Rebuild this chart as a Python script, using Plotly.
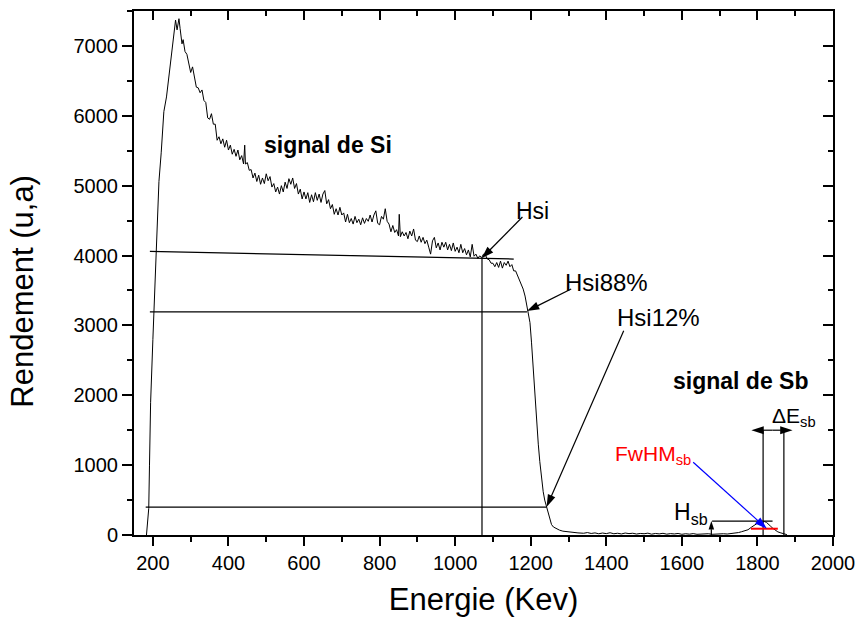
import plotly.graph_objects as go

# ---------------- spectrum data ----------------
energy = [
    183, 186, 189, 191, 194, 200, 205, 210, 216, 222, 229, 236, 242, 247, 253, 258, 260, 264, 266, 269, 272, 277,
    280, 285, 290, 295, 300, 305, 310, 315, 320, 325, 330, 335, 340, 345, 350, 355, 360, 365, 370, 375,
    380, 385, 390, 395, 400, 405, 410, 415, 420, 425, 430, 435, 440, 443, 445, 450, 455, 460, 465, 470,
    475, 480, 485, 490, 495, 500, 505, 510, 515, 520, 525, 530, 535, 540, 545, 550, 555, 560, 565, 570,
    575, 580, 585, 590, 595, 600, 605, 610, 615, 620, 625, 630, 635, 640, 645, 650, 655, 660, 665, 670,
    675, 680, 685, 690, 695, 700, 705, 710, 715, 720, 725, 730, 735, 740, 745, 750, 755, 760, 765, 770,
    775, 780, 785, 790, 795, 800, 805, 810, 815, 820, 825, 830, 835, 840, 845, 850, 852, 855, 860, 865,
    870, 875, 880, 885, 890, 895, 900, 905, 910, 915, 920, 925, 930, 935, 940, 945, 950, 955, 960, 965,
    970, 975, 980, 985, 990, 995, 1000, 1005, 1010, 1015, 1020, 1025, 1030, 1035, 1040, 1045, 1050, 1055,
    1060, 1065, 1070, 1075, 1080, 1085, 1090, 1095, 1100, 1105, 1110, 1115, 1120, 1125, 1130, 1135, 1140,
    1145, 1150, 1155, 1160, 1165, 1170, 1175, 1180, 1185, 1190, 1194, 1198, 1202, 1206, 1211, 1215, 1220,
    1224, 1228, 1233, 1237, 1242, 1246, 1250, 1255, 1260, 1268, 1276, 1285, 1294, 1305, 1315, 1325,
    1340, 1350, 1360, 1370, 1380, 1390, 1400, 1410, 1420, 1430, 1440, 1450, 1460, 1470, 1480, 1490, 1500,
    1510, 1520, 1530, 1540, 1550, 1560, 1570, 1580, 1590, 1600, 1610, 1620, 1630, 1640, 1650, 1660, 1670,
    1680, 1690, 1700, 1710, 1720, 1730, 1740, 1750, 1758, 1766, 1775, 1785, 1793, 1800, 1806, 1812, 1819,
    1824, 1828, 1834, 1841, 1847, 1854, 1862, 1870, 1878,
]
counts = [
    0, 150, 380, 1000, 1900, 2800, 3500, 4250, 5060, 5470, 6060, 6270, 6560, 6730, 7060, 7270, 7370, 7230, 7320, 7390, 7250, 7030,
    7090, 6920, 6880, 6720, 6620, 6700, 6520, 6410, 6400, 6330, 6370, 6220, 6190, 5970, 5950, 6030, 5880, 5880, 5650, 5700,
    5600, 5670, 5550, 5650, 5510, 5580, 5450, 5520, 5420, 5510, 5370, 5430, 5310, 5580, 5310, 5330, 5220, 5230, 5110, 5180,
    5060, 5150, 5020, 5110, 5030, 5170, 5070, 5130, 4980, 5030, 4910, 4980, 4880, 5000, 4910, 5050, 4960, 5100, 5020, 5110,
    4960, 5030, 4880, 4950, 4810, 4910, 4810, 4900, 4760, 4870, 4770, 4900, 4790, 4880, 4760, 4880, 4930, 4740, 4800, 4670,
    4730, 4590, 4670, 4580, 4690, 4580, 4610, 4480, 4590, 4470, 4530, 4450, 4560, 4470, 4520, 4440, 4540, 4460, 4530, 4490,
    4580, 4480, 4580, 4640, 4460, 4440, 4560, 4520, 4670, 4490, 4450, 4340, 4430, 4330, 4370, 4280, 4590, 4270, 4340, 4280,
    4330, 4240, 4350, 4280, 4380, 4220, 4200, 4280, 4190, 4260, 4170, 4220, 4120, 4020, 4210, 4260, 4110, 4180, 4080, 4190,
    4120, 4190, 4080, 4160, 4070, 4180, 4060, 4120, 4040, 4160, 4040, 4100, 4010, 4080, 3980, 4160, 3990, 4020,
    3960, 3995, 3970, 4020, 4010, 3950, 3940, 3890, 3890, 3840, 3900, 3830, 3920, 3820, 3900, 3860, 3920,
    3840, 3870, 3780, 3780, 3710, 3660, 3600, 3520, 3420, 3290, 3180, 3040, 2760, 2420, 1920, 1600, 1300,
    1050, 830, 620, 500, 400, 310, 215, 150, 115, 90, 70, 55, 47, 40, 35, 30,
    25, 35, 22, 30, 18, 28, 20, 32, 18, 25, 15, 28, 20, 25, 14, 22, 18,
    26, 12, 22, 16, 24, 12, 20, 15, 22, 10, 18, 12, 20, 10, 16, 12, 18,
    10, 14, 12, 18, 14, 20, 25, 35, 47, 60, 75, 115, 145, 175, 190, 185, 192,
    180, 165, 130, 95, 70, 45, 30, 15, 5,
]

# ---------------- construction lines ----------------
hsi_line_x, hsi_line_y = [192, 1155], [4060, 3950]
hsi_vert_x, hsi_vert_y = [1071, 1071], [3960, 0]
hsi88_x, hsi88_y = [192, 1190], [3195, 3195]
hsi12_x, hsi12_y = [181, 1242], [400, 400]
de_left_x, de_right_x, de_y = [1815, 1815], [1870, 1870], [0, 1500]
hsb_x, hsb_y = [1680, 1840], [200, 200]
fwhm_x, fwhm_y = [1783, 1854], [90, 90]

# arrows: [tail, head] coordinates
arrow_hsi_x, arrow_hsi_y = [1178, 1070], [4552, 3960]
arrow_hsi88_x, arrow_hsi88_y = [1307, 1190], [3521, 3205]
arrow_hsi12_x, arrow_hsi12_y = [1446, 1242], [2923, 400]
arrow_fwhm_x, arrow_fwhm_y = [1630, 1825], [1041, 90]
arrow_hsb_x, arrow_hsb_y = [1678, 1678], [0, 200]
arrow_de_left_x, arrow_de_right_x, arrow_de_y = [1840, 1784], [1840, 1893], [1500, 1500]

FONT = "Liberation Sans, Arial, sans-serif"

fig = go.Figure()
fig.add_trace(go.Scatter(x=energy, y=counts, mode="lines",
                         line=dict(color="black", width=1), hoverinfo="skip"))

for xs, ys in [(hsi_line_x, hsi_line_y), (hsi_vert_x, hsi_vert_y), (hsi88_x, hsi88_y),
               (hsi12_x, hsi12_y), (de_left_x, de_y), (de_right_x, de_y), (hsb_x, hsb_y)]:
    fig.add_trace(go.Scatter(x=xs, y=ys, mode="lines", line=dict(color="black", width=1.2),
                             hoverinfo="skip"))
fig.add_trace(go.Scatter(x=fwhm_x, y=fwhm_y, mode="lines", line=dict(color="red", width=2),
                         hoverinfo="skip"))


def arrow(xs, ys, color="black", size=13):
    # arrow symbol oriented along the segment; the first point has no head
    fig.add_trace(go.Scatter(x=xs, y=ys, mode="lines+markers",
                             line=dict(color=color, width=1.2),
                             marker=dict(symbol="arrow", size=size, angleref="previous",
                                         color=color, line=dict(width=0)),
                             hoverinfo="skip"))


arrow(arrow_hsi_x, arrow_hsi_y)
arrow(arrow_hsi88_x, arrow_hsi88_y)
arrow(arrow_hsi12_x, arrow_hsi12_y)
arrow(arrow_fwhm_x, arrow_fwhm_y, color="blue")
arrow(arrow_hsb_x, arrow_hsb_y, size=9)
arrow(arrow_de_left_x, arrow_de_y)
arrow(arrow_de_right_x, arrow_de_y)

# invisible trace on the mirror axes so they are drawn
fig.add_trace(go.Scatter(x=[1000], y=[0], xaxis="x2", yaxis="y2", mode="markers",
                         marker=dict(opacity=0), hoverinfo="skip"))


def label(x, y, text, size, color="black"):
    fig.add_annotation(x=x, y=y, xref="x", yref="y", text=text, showarrow=False,
                       xanchor="left", yanchor="middle",
                       font=dict(family=FONT, size=size, color=color))


label(489, 5589, "<b>signal de Si</b>", 23)
label(1570, 2210, "<b>signal de Sb</b>", 23)
label(1155, 4634, "Hsi", 23)
label(1286, 3612, "Hsi88%", 24)
label(1423, 3112, "Hsi12%", 24)
label(1834, 1690, "ΔE<sub>sb</sub>", 21)
label(1418, 1150, "FwHM<sub>sb</sub>", 21, color="red")
label(1574, 310, "H<sub>sb</sub>", 23)

# y-axis title (placed as in the reference)
fig.add_annotation(x=-0.159, y=0.466, xref="paper", yref="paper", text="Rendement (u,a)",
                   textangle=-90, showarrow=False, xanchor="center", yanchor="middle",
                   font=dict(family=FONT, size=31, color="black"))

axis_common = dict(showline=True, linecolor="black", linewidth=2, mirror=True,
                   showgrid=False, zeroline=False, tickcolor="black", tickwidth=1.5,
                   tickfont=dict(family=FONT, size=20, color="black"))

fig.update_layout(
    width=864, height=623,
    margin=dict(l=134, r=25, t=9, b=88),
    paper_bgcolor="white", plot_bgcolor="white",
    showlegend=False,
    xaxis=dict(range=[150, 2000], ticks="outside", ticklen=9, dtick=200, tick0=0,
               minor=dict(ticks="outside", ticklen=5, dtick=100, tick0=0,
                          tickcolor="black", tickwidth=1.5),
               title=dict(text="Energie (Kev)", font=dict(family=FONT, size=31, color="black"),
                          standoff=15),
               **axis_common),
    yaxis=dict(range=[0, 7500], ticks="outside", ticklen=10, dtick=1000, tick0=0,
               minor=dict(ticks="outside", ticklen=5, dtick=500, tick0=0,
                          tickcolor="black", tickwidth=1.5),
               **axis_common),
    xaxis2=dict(range=[150, 2000], overlaying="x", side="top", anchor="y",
                ticks="inside", ticklen=9, dtick=200, tick0=0, showticklabels=False,
                minor=dict(ticks="inside", ticklen=5, dtick=100, tick0=0,
                           tickcolor="black", tickwidth=1.5),
                showgrid=False, zeroline=False, showline=False, tickcolor="black", tickwidth=1.5),
    yaxis2=dict(range=[0, 7500], overlaying="y", side="right", anchor="x",
                ticks="inside", ticklen=10, dtick=1000, tick0=0, showticklabels=False,
                minor=dict(ticks="inside", ticklen=5, dtick=500, tick0=0,
                           tickcolor="black", tickwidth=1.5),
                showgrid=False, zeroline=False, showline=False, tickcolor="black", tickwidth=1.5),
)

fig.write_html("out.html")
